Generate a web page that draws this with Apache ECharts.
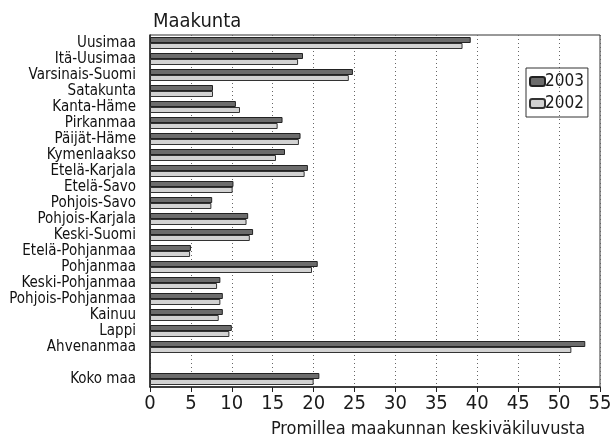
<!DOCTYPE html>
<html>
<head>
<meta charset="utf-8">
<script src="https://cdn.jsdelivr.net/npm/echarts@6/dist/echarts.min.js"></script>
<style>
  html, body { margin: 0; padding: 0; background: #fff; }
  #chart { width: 615px; height: 438px; }
</style>
</head>
<body>
<div id="chart"></div>
<script>
// Maakunnat (tyhjä rivi ennen Koko maa -riviä)
const regions = [
  'Uusimaa', 'Itä-Uusimaa', 'Varsinais-Suomi', 'Satakunta', 'Kanta-Häme',
  'Pirkanmaa', 'Päijät-Häme', 'Kymenlaakso', 'Etelä-Karjala', 'Etelä-Savo',
  'Pohjois-Savo', 'Pohjois-Karjala', 'Keski-Suomi', 'Etelä-Pohjanmaa', 'Pohjanmaa',
  'Keski-Pohjanmaa', 'Pohjois-Pohjanmaa', 'Kainuu', 'Lappi', 'Ahvenanmaa',
  '', 'Koko maa'
]

// promillea maakunnan keskiväkiluvusta
const values2003 = [39.2, 18.7, 24.8, 7.7, 10.5, 16.2, 18.4, 16.5, 19.3, 10.2,
  7.6, 12.0, 12.6, 5.0, 20.5, 8.6, 8.9, 8.9, 10.0, 53.2, null, 20.7]
const values2002 = [38.2, 18.1, 24.3, 7.7, 11.0, 15.6, 18.2, 15.4, 18.9, 10.1,
  7.5, 11.8, 12.2, 4.9, 19.8, 8.2, 8.6, 8.4, 9.7, 51.5, null, 20.0]

const xTicks = [0, 5, 10, 15, 20, 25, 30, 35, 40, 45, 50, 55]

const font = "'DejaVu Sans Condensed', 'Liberation Sans Narrow', sans-serif"

const chart = echarts.init(document.getElementById('chart'), null, { renderer: 'canvas' })

const option = {
  animation: false,
  backgroundColor: '#fff',
  textStyle: { fontFamily: font, color: '#1a1a1a' },
  title: {
    text: 'Maakunta',
    left: 148,
    top: 7,
    textStyle: { fontFamily: font, fontSize: 20, fontWeight: 'normal', color: '#1a1a1a' }
  },
  legend: {
    orient: 'vertical',
    left: 526,
    top: 68,
    padding: [5, 4, 5, 3],
    itemGap: 5,
    itemWidth: 15,
    itemHeight: 9,
    borderColor: '#333',
    borderWidth: 1,
    data: ['2003', '2002'],
    textStyle: { fontFamily: font, fontSize: 17, color: '#1a1a1a', padding: [0, 0, 0, -5] }
  },
  grid: {
    left: 150,
    right: 15,
    top: 35,
    bottom: 51,
    outerBoundsMode: 'none',
    containLabel: false,
    show: true,
    borderColor: '#333',
    borderWidth: 1
  },
  xAxis: {
    type: 'value',
    min: 0,
    max: 55,
    interval: 5,
    name: 'Promillea maakunnan keskiväkiluvusta',
    nameLocation: 'middle',
    nameGap: 33,
    nameTextStyle: { fontFamily: font, fontSize: 18, color: '#1a1a1a', padding: [0, 0, 0, 106] },
    axisLine: { show: true, lineStyle: { color: '#222', width: 1.5 } },
    axisTick: { show: true, length: 5, lineStyle: { color: '#222' } },
    axisLabel: {
      fontFamily: font,
      fontSize: 20,
      color: '#1a1a1a',
      margin: 7,
      formatter: v => xTicks.includes(v) ? String(v) : ''
    },
    splitLine: { show: true, lineStyle: { color: '#666', type: [1, 3], width: 1 } }
  },
  yAxis: {
    type: 'category',
    inverse: true,
    data: regions,
    axisLine: { show: true, lineStyle: { color: '#222', width: 1.5 } },
    axisTick: { show: false },
    axisLabel: { fontFamily: font, fontSize: 15, color: '#111', margin: 14, interval: 0 },
    splitLine: { show: false }
  },
  series: [
    {
      name: '2003',
      type: 'bar',
      data: values2003,
      barWidth: 6,
      barGap: '0%',
      itemStyle: { color: '#6c6c6c', borderColor: '#222', borderWidth: 1 }
    },
    {
      name: '2002',
      type: 'bar',
      data: values2002,
      barWidth: 6,
      barGap: '0%',
      itemStyle: { color: '#d2d2d2', borderColor: '#333', borderWidth: 1 }
    }
  ]
}

chart.setOption(option)
</script>
</body>
</html>
